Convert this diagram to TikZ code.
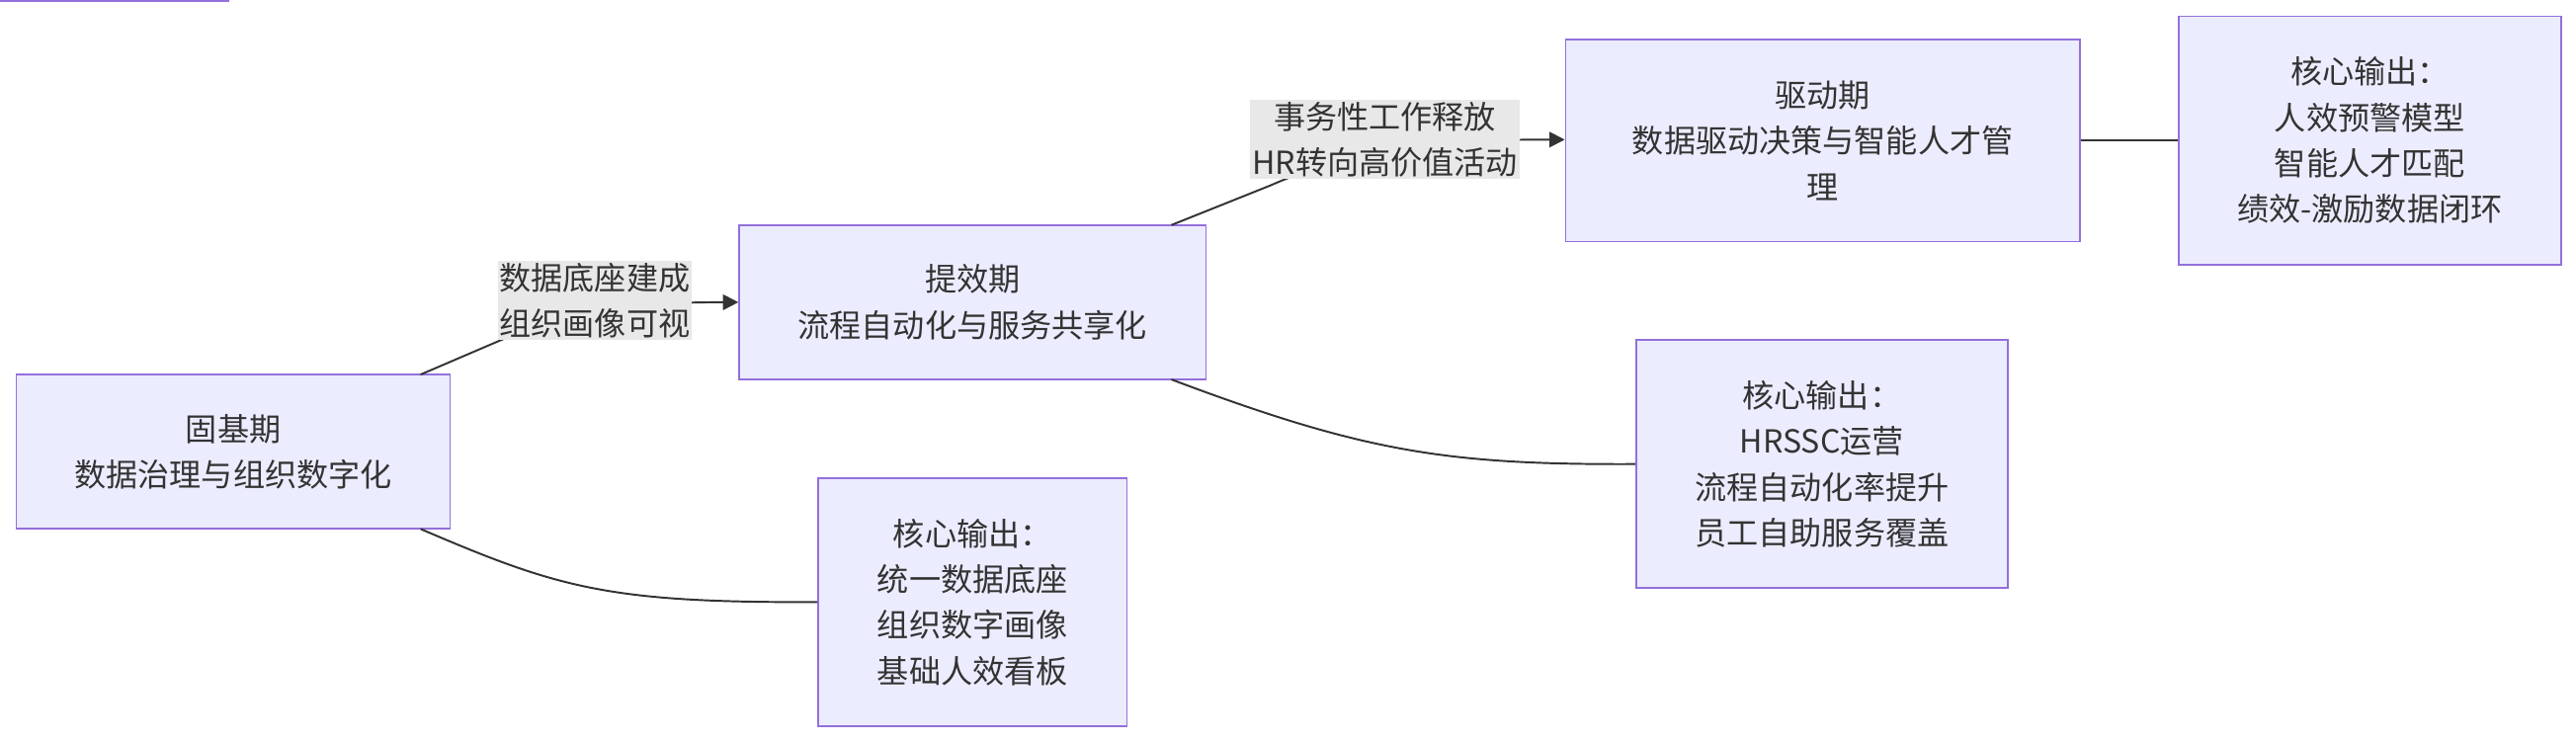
\documentclass[tikz,border=0pt]{standalone}
\usepackage{fontspec}
\setmainfont{Noto Sans CJK SC}
\usetikzlibrary{arrows.meta}
\definecolor{bfill}{HTML}{ECECFF}
\definecolor{bdraw}{HTML}{9370DB}
\definecolor{lbg}{HTML}{E8E8E8}
\definecolor{ln}{HTML}{333333}
\begin{document}
\begin{tikzpicture}[x=0.03cm,y=-0.03cm,
 box/.style={draw=bdraw,fill=bfill,line width=0.9pt,align=center,inner sep=0pt,font=\fontsize{16.5pt}{23.8pt}\selectfont,text=black!80},
 lab/.style={fill=lbg,align=center,inner sep=1pt,font=\fontsize{16.5pt}{23.8pt}\selectfont,text=black!80},
 edge/.style={draw=ln,line width=1pt},
 arr/.style={edge,-{Triangle[length=8pt,width=8pt]}}]
\useasboundingbox (0,0) rectangle (1568,452);
\node[box,minimum width=264\pgflinewidth,text width=0pt] at (0,0) {};
\node[box,minimum width=7.92cm,minimum height=2.82cm] (A) at (142,275) {固基期\\数据治理与组织数字化};
\node[box,minimum width=8.52cm,minimum height=2.82cm] (B) at (592,184) {提效期\\流程自动化与服务共享化};
\node[box,minimum width=9.39cm,minimum height=3.69cm] (C) at (1109.5,85.5) {驱动期\\数据驱动决策与智能人才管\\理};
\node[box,minimum width=6.99cm,minimum height=4.53cm] (D) at (1442.5,85.5) {核心输出：\\人效预警模型\\智能人才匹配\\绩效-激励数据闭环};
\node[box,minimum width=6.78cm,minimum height=4.53cm] (E) at (1109,282.5) {核心输出：\\HRSSC运营\\流程自动化率提升\\员工自助服务覆盖};
\node[box,minimum width=5.64cm,minimum height=4.53cm] (F) at (592,366.5) {核心输出：\\统一数据底座\\组织数字画像\\基础人效看板};
\coordinate (a1) at (256,228);
\coordinate (b1) at (713,137);
\coordinate (a2) at (256,322);
\coordinate (b2) at (713,231);
\draw[arr] (a1) -- (305,207) .. controls (360,186) and (400,184) .. (B.west |- 0,184);
\node[lab] (L1) at (362,183) {数据底座建成\\组织画像可视};
\draw[arr] (b1) -- (773,113) .. controls (830,88) and (880,85) .. (C.west |- 0,85);
\node[lab] (L2) at (843,85) {事务性工作释放\\HR转向高价值活动};
\draw[edge] (a2) .. controls (340,358) and (370,367) .. (F.west);
\draw[edge] (b2) .. controls (830,275) and (880,283) .. (E.west);
\draw[edge] (C.east) -- (D.west);
\end{tikzpicture}
\end{document}
